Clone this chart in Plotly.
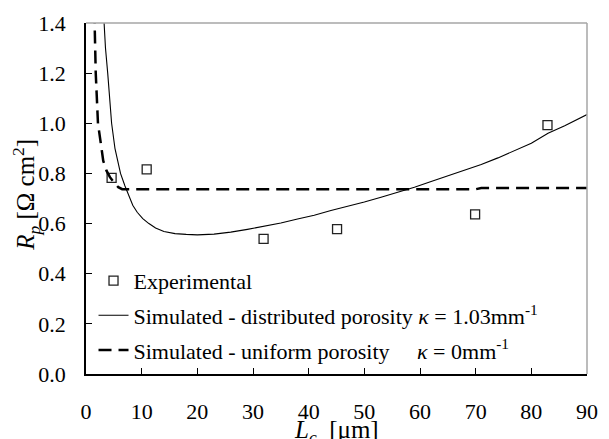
import plotly.graph_objects as go

# Experimental points
exp_x = [4.6, 10.9, 31.9, 45.1, 69.9, 82.9]
exp_y = [0.782, 0.816, 0.539, 0.578, 0.637, 0.993]

# Simulated - distributed porosity (kappa = 1.03 mm^-1)
dist_x = [3.15, 3.5, 3.9, 4.25, 4.6, 5.2, 6.2, 7.0, 7.8, 8.4, 9.2, 10.2, 11.3, 12.5, 14, 16, 18, 20,
          23, 26, 29, 32, 35, 38, 41, 44, 47, 50, 53, 56, 59, 62, 65, 68, 71, 74, 77, 80, 83, 86, 90]
dist_y = [1.44, 1.3, 1.2, 1.1, 1.0, 0.9, 0.8, 0.75, 0.705, 0.673, 0.645, 0.62, 0.60, 0.582, 0.568, 0.56, 0.557, 0.555,
          0.558, 0.566, 0.577, 0.588, 0.602, 0.618, 0.633, 0.652, 0.668, 0.686, 0.705, 0.724, 0.745, 0.768, 0.79,
          0.812, 0.836, 0.862, 0.89, 0.92, 0.96, 0.99, 1.035]

# Simulated - uniform porosity (kappa = 0)
unif_x = [1.5, 1.6, 1.75, 2.15, 2.6, 3.1, 3.7, 4.3, 5.0, 5.8, 6.5, 70, 71, 90]
unif_y = [1.45, 1.3, 1.2, 1.0, 0.92, 0.85, 0.81, 0.785, 0.765, 0.745, 0.737, 0.737, 0.742, 0.742]

x_ticks = [0, 10, 20, 30, 40, 50, 60, 70, 80, 90]
y_ticks = [0.0, 0.2, 0.4, 0.6, 0.8, 1.0, 1.2, 1.4]

FONT = "Liberation Serif"
FS = 22
TFS = 25

fig = go.Figure()
fig.add_trace(go.Scatter(
    x=exp_x, y=exp_y, mode="markers", name="Experimental", legendgroup="a",
    marker=dict(symbol="square-open", size=9, color="#222", line=dict(width=1.3, color="#222")),
))
fig.add_trace(go.Scatter(
    x=dist_x, y=dist_y, mode="lines", legendgroup="b",
    name="Simulated - distributed porosity <i>κ</i> = 1.03mm<sup>-1</sup>",
    line=dict(color="black", width=1.1),
))
fig.add_trace(go.Scatter(
    x=unif_x, y=unif_y, mode="lines", legendgroup="c",
    name="Simulated - uniform porosity\u00a0\u00a0\u00a0\u00a0 <i>κ</i> = 0mm<sup>-1</sup>",
    line=dict(color="black", width=2.5, dash="13px,7px"),
))

# gray top/right frame
fig.add_shape(type="line", xref="x domain", yref="y domain", x0=0, x1=1, y0=1, y1=1,
              line=dict(color="#a6a6a6", width=1.5))
fig.add_shape(type="line", xref="x domain", yref="y domain", x0=1, x1=1, y0=0, y1=1,
              line=dict(color="#a6a6a6", width=1.5))

fig.add_annotation(text="<i>R<sub>p</sub></i> [Ω cm<sup>2</sup>]", xref="paper", yref="paper",
                   x=-0.12, y=0.51, showarrow=False, textangle=-90,
                   font=dict(family=FONT, size=TFS, color="black"), xanchor="center", yanchor="middle")
fig.add_annotation(text="<i>L<sub>c</sub></i>  [μm]", xref="paper", yref="paper",
                   x=0.5, y=-0.165, showarrow=False,
                   font=dict(family=FONT, size=TFS, color="black"), xanchor="center", yanchor="middle")

fig.update_layout(
    width=609, height=439,
    margin=dict(l=86, r=11, t=16, b=65),
    paper_bgcolor="white", plot_bgcolor="white",
    font=dict(family=FONT, size=FS, color="black"),
    showlegend=True,
    legend=dict(x=0.015, y=0.325, xanchor="left", yanchor="top", bgcolor="rgba(0,0,0,0)",
                traceorder="grouped", tracegroupgap=3, font=dict(family=FONT, size=FS)),
    xaxis=dict(range=[0, 90], tickvals=x_ticks, ticktext=[str(v) for v in x_ticks],
               ticks="inside", ticklen=6, tickcolor="black", showline=True, linecolor="black",
               linewidth=1.5, showgrid=False, zeroline=False, ticklabelstandoff=17),
    yaxis=dict(range=[0, 1.4], tickvals=y_ticks, ticktext=[f"{v:.1f}" for v in y_ticks],
               ticks="inside", ticklen=6, tickcolor="black", showline=True, linecolor="black",
               linewidth=1.5, showgrid=False, zeroline=False, ticklabelstandoff=14),
)

fig.write_html("out.html")
